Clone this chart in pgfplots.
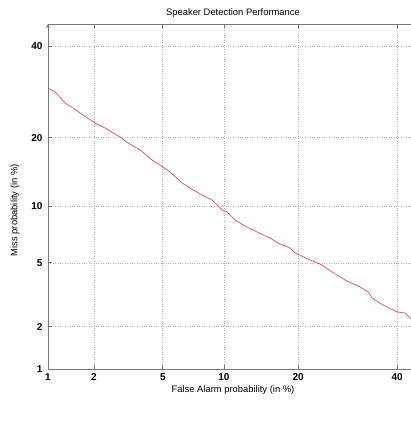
\documentclass[border=0pt]{standalone}
\usepackage{pgfplots}
\pgfplotsset{compat=1.18}
\usepackage{fontspec}
\setmainfont{Liberation Sans}
\definecolor{detred}{RGB}{212,82,82}
\definecolor{axisgray}{RGB}{120,120,120}
\definecolor{gridgray}{RGB}{180,180,180}

% DET curve: coordinates are normal deviates (probit) of the percentages
\begin{document}
\begin{tikzpicture}
\begin{axis}[
    scale only axis,
    width=370pt, height=345pt,
    xmin=-2.3263, xmax=-0.13,
    ymin=-2.3263, ymax=-0.112,
    axis x line=box, axis y line=left,
    axis line style={axisgray, line width=0.9pt},
    xtick={-2.3263,-2.0537,-1.6449,-1.2816,-0.8416,-0.2533},
    xticklabels={1,2,5,10,20,40},
    ytick={-2.3263,-2.0537,-1.6449,-1.2816,-0.8416,-0.2533},
    yticklabels={1,2,5,10,20,40},
    tick style={axisgray, line width=0.8pt},
    major tick length=4pt,
    tick align=inside,
    grid=major,
    grid style={gridgray, dotted, line width=0.6pt},
    font=\fontsize{9.4}{10}\selectfont,
    ticklabel style={font=\fontsize{10}{11}\selectfont\bfseries},
    /pgf/number format/assume math mode=true,
    xticklabel style={yshift=-1pt},
    yticklabel style={xshift=-2pt},
    title={Speaker Detection Performance},
    every axis title/.style={at={(axis description cs:0.5,1)}, anchor=center, yshift=11pt},
    xlabel={False Alarm probability (in \%)},
    ylabel={Miss probability (in \%)},
    every axis x label/.style={at={(axis description cs:0.5,-0.0609)}, anchor=center},
    every axis y label/.style={at={(axis description cs:-0.0892,0.46)}, anchor=center, rotate=90},
    clip=true,
]
\coordinate (sw) at (rel axis cs:0,0);
\coordinate (ne) at (rel axis cs:1,1);
\addplot[detred, line width=0.7pt] coordinates {
    (-2.3245,-0.5246) (-2.2847,-0.5465) (-2.2253,-0.6190) (-2.1778,-0.6511)
    (-2.1185,-0.6960) (-2.0472,-0.7474) (-1.9878,-0.7795) (-1.8987,-0.8372)
    (-1.8512,-0.8757) (-1.7800,-0.9207) (-1.7087,-0.9848) (-1.6612,-1.0169)
    (-1.6018,-1.0619) (-1.5306,-1.1325) (-1.4831,-1.1646) (-1.4118,-1.2095)
    (-1.3524,-1.2416) (-1.2930,-1.3058) (-1.2634,-1.3186) (-1.2158,-1.3699)
    (-1.1683,-1.4020) (-1.0852,-1.4470) (-1.0080,-1.4855) (-0.9605,-1.5176)
    (-0.8892,-1.5497) (-0.8596,-1.5818) (-0.7705,-1.6267) (-0.6992,-1.6588)
    (-0.6398,-1.7037) (-0.5626,-1.7551) (-0.4736,-1.8000) (-0.4261,-1.8321)
    (-0.4023,-1.8706) (-0.3370,-1.9155) (-0.2539,-1.9604) (-0.2063,-1.9669)
    (-0.1767,-1.9990) (-0.1300,-2.0300)
};
\end{axis}
\pgfresetboundingbox
\path ([shift={(-48pt,-54pt)}]sw) rectangle ([shift={(-7pt,24pt)}]ne);
\end{tikzpicture}
\end{document}
